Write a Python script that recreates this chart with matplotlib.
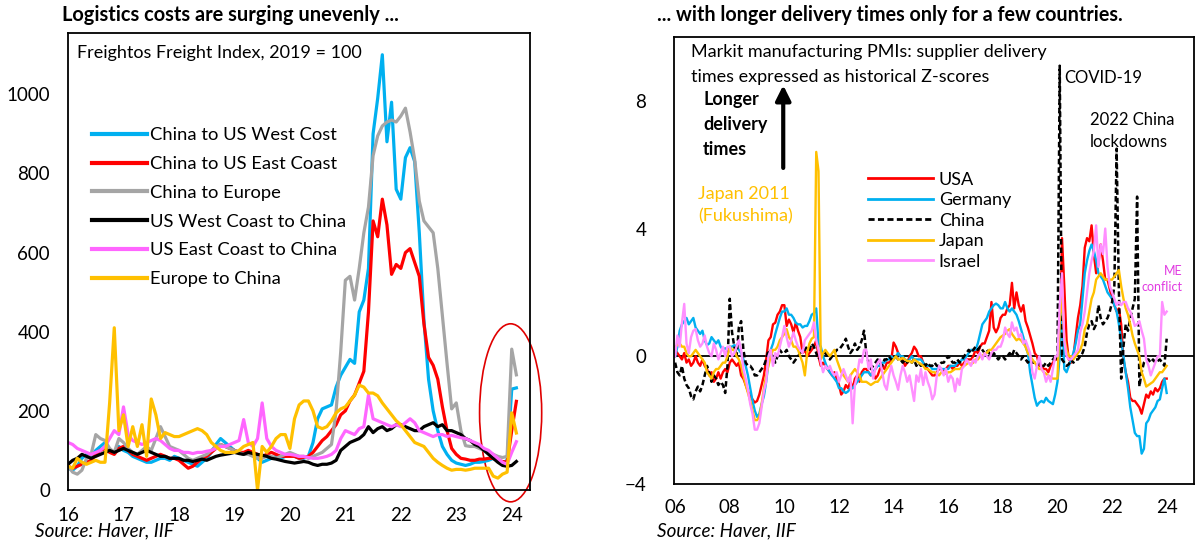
import numpy as np
import matplotlib
matplotlib.use('Agg')
import matplotlib.pyplot as plt
from matplotlib.patches import Ellipse

plt.rcParams['font.family'] = ['Lato', 'DejaVu Sans']

# ---------------- left chart: Freightos index, monthly Jan 2016 - Feb 2024
fr_start = 2016
cn_usw = [55, 50, 60, 80, 90, 85, 100, 110, 120, 100, 95, 110,
          100, 95, 85, 80, 75, 70, 70, 75, 80, 80, 75, 85,
          80, 75, 70, 65, 60, 70, 80, 95, 115, 130, 120, 110,
          100, 95, 90, 95, 90, 80, 70, 75, 80, 85, 80, 85,
          90, 85, 80, 80, 85, 120, 180, 205, 210, 215, 260, 290,
          310, 330, 320, 450, 480, 560, 900, 990, 1100, 880, 980, 760,
          735, 840, 865, 830, 650, 430, 280, 200, 150, 110, 90, 75,
          68, 65, 62, 65, 70, 70, 72, 75, 80, 75, 68, 75,
          255, 258]
cn_use = [60, 55, 60, 65, 70, 75, 90, 100, 105, 95, 90, 105,
          110, 100, 90, 85, 80, 75, 80, 85, 90, 85, 80, 80,
          75, 65, 55, 60, 70, 80, 85, 95, 105, 115, 110, 105,
          100, 95, 95, 100, 95, 90, 85, 90, 95, 90, 85, 85,
          85, 85, 80, 82, 85, 95, 110, 125, 135, 150, 165, 190,
          200, 225, 240, 270, 300, 450, 680, 640, 735, 670, 545, 570,
          560, 600, 610, 575, 540, 420, 335, 315, 280, 210, 150, 105,
          90, 80, 78, 75, 75, 78, 78, 80, 80, 75, 72, 70,
          150, 224]
cn_eu = [60, 45, 40, 50, 80, 90, 140, 130, 125, 105, 95, 130,
         120, 105, 95, 90, 100, 110, 100, 130, 160, 135, 110, 105,
         100, 90, 80, 75, 80, 85, 90, 100, 110, 115, 110, 105,
         100, 95, 90, 90, 85, 80, 80, 85, 85, 80, 85, 90,
         95, 90, 85, 85, 80, 85, 90, 95, 105, 115, 200, 350,
         530, 540, 480, 560, 650, 715, 845, 895, 920, 930, 935, 930,
         945, 965, 905, 835, 730, 680, 665, 650, 560, 440, 320, 205,
         220, 150, 112, 110, 110, 105, 100, 95, 90, 85, 82, 85,
         356, 291]
usw_cn = [65, 75, 80, 90, 85, 80, 85, 90, 95, 100, 95, 100,
          105, 100, 95, 90, 95, 100, 95, 90, 85, 85, 80, 80,
          80, 75, 75, 72, 75, 78, 75, 80, 85, 88, 90, 92,
          95, 92, 90, 95, 92, 90, 88, 85, 80, 78, 75, 72,
          70, 68, 70, 72, 70, 65, 62, 65, 65, 68, 75, 100,
          110, 120, 125, 130, 140, 160, 145, 155, 160, 150, 155, 165,
          165, 160, 155, 150, 150, 160, 165, 170, 160, 165, 150, 150,
          145, 140, 130, 125, 115, 110, 100, 90, 80, 70, 62, 60,
          62, 72]
use_cn = [120, 115, 105, 100, 95, 90, 95, 100, 110, 130, 150, 140,
          210, 140, 125, 120, 115, 120, 125, 130, 125, 115, 105, 100,
          100, 95, 95, 92, 95, 95, 98, 100, 105, 110, 110, 115,
          120, 125, 178, 120, 110, 130, 220, 130, 110, 100, 95, 90,
          90, 88, 85, 85, 82, 80, 80, 82, 85, 90, 100, 130,
          150, 145, 140, 155, 160, 240, 180, 175, 170, 165, 160, 165,
          160, 170, 180, 170, 150, 145, 140, 135, 140, 140, 135, 138,
          135, 132, 130, 125, 120, 115, 105, 100, 90, 80, 70, 65,
          95, 122]
eu_cn = [60, 55, 80, 70, 65, 70, 75, 70, 70, 220, 410, 150,
         190, 110, 160, 110, 165, 85, 230, 190, 130, 145, 140, 135,
         135, 140, 145, 150, 155, 150, 140, 120, 110, 100, 95, 95,
         95, 100, 110, 115, 120, 0, 110, 95, 110, 130, 140, 140,
         105, 180, 215, 225, 225, 200, 160, 155, 160, 175, 195, 205,
         210, 225, 240, 265, 260, 245, 245, 238, 220, 205, 190, 175,
         165, 150, 135, 120, 115, 110, 95, 80, 70, 62, 55, 50,
         52, 52, 50, 52, 55, 55, 55, 55, 35, 30, 40, 45,
         195, 144]
fr_names = ['China to US West Cost', 'China to US East Coast', 'China to Europe',
            'US West Coast to China', 'US East Coast to China', 'Europe to China']
fr_colors = ['#00B0F0', '#FF0000', '#A5A5A5', '#000000', '#FF66FF', '#FFC000']
fr_years = list(range(2016, 2025))
fr_ticklabels = ['16', '17', '18', '19', '20', '21', '22', '23', '24']

# ---------------- right chart: PMI supplier delivery z-scores, monthly Jan 2006 - Jan 2024
pmi_start = 2006
usa = [0.2, 0.1, 0.0, -0.1, 0.1, -0.2, -0.1, -0.3, -0.2, 0.0, -0.2, -0.3,
       -0.1, -0.3, -0.4, -0.6, -0.5, -0.8, -0.7, -0.5, -0.7, -0.5, -0.4, -0.5,
       -0.2, -0.1, -0.2, -0.3, -0.2, -0.6, -0.7, -0.9, -1.1, -1.25, -1.35, -1.45,
       -1.4, -1.2, -0.9, -0.6, -0.1, 0.5, 0.6, 1.0, 1.05, 1.3, 1.4, 1.6,
       1.6, 0.95, 1.15, 1.0, 0.75, 1.05, 0.8, 0.6, 0.1, 0.2, 0.0, 0.1,
       0.2, 0.3, 0.5, 0.0, -0.3, -0.2, -0.3, -0.4, -0.5, -0.6, -0.5, -0.7,
       -0.9, -1.2, -1.1, -0.9, -1.0, -0.8, -1.0, -0.7, -0.6, -0.8, -0.5, -0.4,
       -0.4, -0.5, -0.6, -0.5, -0.7, -0.6, -0.4, -0.3, -0.4, -0.2, -0.2, -0.1,
       0.43, 0.3, 0.1, 0.0, -0.1, -0.3, -0.2, 0.0, 0.1, 0.3, 0.2, 0.0,
       0.0, -0.2, -0.3, -0.4, -0.5, -0.6, -0.6, -0.5, -0.4, -0.4, -0.5, -0.4,
       -0.3, -0.3, -0.4, -0.3, -0.3, -0.2, -0.3, -0.2, -0.1, -0.1, -0.1, 0.0,
       0.2, 0.1, 0.3, 0.4, 0.4, 0.6, 0.8, 1.7, 0.9, 0.75, 0.9, 1.2,
       1.3, 1.3, 1.5, 1.6, 2.3, 1.5, 2.0, 1.6, 1.4, 1.6, 1.1, 0.9,
       0.65, 0.4, 0.1, 0.0, -0.3, -0.3, -0.4, -0.4, -0.5, -0.3, -0.2, -0.1,
       -0.1, 0.1, 3.7, 2.2, 0.5, -0.1, -0.2, 0.0, 0.6, 1.2, 1.6, 2.2,
       3.4, 3.7, 3.6, 4.1, 3.2, 2.6, 2.9, 3.5, 3.0, 2.4, 2.4, 2.1,
       1.8, 1.6, 1.4, 1.5, 1.0, -0.1, -0.5, -0.8, -1.3, -1.4, -1.4, -1.5,
       -1.6, -1.8, -1.5, -1.2, -1.3, -1.1, -1.2, -1.0, -1.1, -1.0, -0.8, -0.7,
       -0.7]
germany = [0.0, 0.3, 0.8, 1.0, 1.1, 1.2, 1.0, 1.1, 1.2, 0.9, 0.8, 0.7,
           0.8, 0.5, 0.35, 0.4, 0.6, 0.5, 0.4, 0.5, 0.3, 0.2, 0.25, 0.2,
           0.3, 0.3, 0.35, 0.3, 0.2, 0.1, -0.1, -0.3, -0.6, -1.0, -1.4, -1.7,
           -1.9, -1.8, -1.5, -1.25, -0.8, -0.2, 0.2, 0.4, 0.7, 0.95, 1.2, 1.4,
           1.4, 1.5, 1.3, 1.3, 1.2, 1.05, 1.0, 1.0, 0.9, 0.95, 0.95, 1.1,
           1.3, 1.35, 1.5, 0.4, 0.3, 0.0, -0.2, -0.4, -0.5, -0.6, -0.7, -0.8,
           -1.0, -1.0, -1.1, -1.15, -1.1, -1.0, -1.0, -0.9, -0.8, -0.7, -0.6, -0.5,
           -0.5, -0.5, -0.6, -0.5, -0.4, -0.3, -0.3, -0.2, -0.2, -0.1, -0.1, 0.0,
           -0.1, 0.0, 0.1, 0.0, 0.0, -0.1, -0.15, -0.1, 0.0, -0.1, -0.1, -0.1,
           -0.1, -0.2, -0.3, -0.3, -0.3, -0.4, -0.4, -0.4, -0.35, -0.4, -0.4, -0.4,
           -0.4, -0.3, -0.3, -0.3, -0.2, -0.2, -0.1, -0.1, 0.0, 0.1, 0.2, 0.2,
           0.2, 0.4, 0.7, 1.0, 1.1, 1.2, 1.4, 1.5, 1.6, 1.65, 1.6, 1.5,
           1.5, 1.7, 1.5, 1.4, 1.5, 1.4, 1.3, 1.1, 0.85, 0.6, 0.3, 0.1,
           -0.5, -0.9, -1.3, -1.55, -1.45, -1.4, -1.45, -1.3, -1.4, -1.45, -1.5, -1.2,
           -0.8, 0.0, 1.5, -0.4, -0.5, -0.3, -0.1, 0.1, 0.4, 0.8, 1.0, 1.8,
           2.6, 3.0, 3.3, 3.5, 3.3, 3.0, 2.6, 2.5, 2.4, 2.2, 2.0, 1.9,
           1.8, 1.6, 1.4, 1.0, 0.5, 0.0, -0.5, -1.0, -1.6, -2.0, -2.4, -2.5,
           -2.5, -3.05, -2.9, -2.1, -2.0, -1.8, -1.7, -1.6, -1.4, -1.35, -1.0, -0.7,
           -1.15]
china = [-0.2, -0.5, -0.6, -0.3, -0.7, -0.9, -1.0, -1.25, -1.35, -1.1, -0.95, -1.1,
         -0.9, -0.6, -0.3, -0.5, -0.8, -0.6, -0.7, -0.9, -0.8, -0.9, -1.15, -0.3,
         1.8, 0.75, 0.3, 0.0, 0.9, 1.1, 0.2, -0.2, -0.3, -0.3, -0.4, -0.6,
         -0.6, -0.5, -0.4, -0.3, -0.1, 0.2, 0.1, 0.0, -0.2, 0.0, 0.2, 0.1,
         0.1, 0.2, 0.0, -0.1, -0.2, -0.1, 0.0, 0.1, 0.2, 0.2, 0.3, 0.2,
         0.4, 0.3, 0.1, -0.1, 0.0, 0.1, 0.1, 0.0, -0.1, 0.0, 0.1, 0.2,
         0.2, 0.3, 0.4, 0.55, 0.3, 0.1, 0.2, 0.4, 0.2, 0.3, 0.5, 0.8,
         0.1, -0.2, -0.4, -0.3, -0.2, -0.1, -0.2, -0.3, -0.1, -0.1, 0.0, -0.1,
         -0.1, 0.0, -0.1, -0.1, -0.2, -0.1, -0.2, -0.1, -0.2, -0.1, -0.3, -0.2,
         -0.3, -0.2, -0.3, -0.2, -0.3, -0.3, -0.2, -0.3, -0.3, -0.2, -0.2, -0.1,
         0.0, -0.1, -0.2, -0.2, -0.1, -0.2, -0.1, 0.0, 0.1, 0.2, 0.1, 0.2,
         0.3, 0.2, 0.3, 0.2, 0.1, 0.2, 0.1, 0.0, 0.1, 0.0, -0.1, 0.0,
         0.0, -0.1, 0.0, 0.1, 0.0, 0.2, 0.1, 0.0, -0.1, 0.0, -0.1, -0.2,
         -0.1, -0.2, -0.2, -0.3, -0.2, -0.3, -0.3, -0.2, -0.3, -0.2, -0.1, 0.0,
         -0.1, 9.1, -0.1, -0.2, -0.3, -0.25, -0.1, -0.2, -0.1, -0.1, 0.0, 0.1,
         0.3, 0.75, 1.0, 1.1, 0.85, 1.0, 1.6, 1.2, 1.0, 1.1, 1.2, 1.4,
         1.7, 2.2, 6.5, 2.0, -0.7, 0.3, 1.0, 0.8, 1.2, 1.5, 1.8, 5.0,
         -0.95, -0.5, -0.2, -0.1, -0.1, -0.2, -0.1, -0.2, -0.15, -0.1, -0.2, -0.3,
         0.55]
japan = [0.3, 0.35, 0.4, 0.3, 0.3, 0.1, 0.0, 0.0, 0.1, 0.2, 0.1, 0.0,
         -0.1, -0.2, -0.5, -0.6, -0.7, -0.5, -0.4, -0.4, -0.3, -0.2, -0.2, 0.0,
         0.3, 0.2, 0.2, 0.0, -0.1, -0.3, -0.6, -0.9, -1.15, -1.4, -1.7, -2.0,
         -2.0, -1.9, -1.5, -1.0, -0.6, -0.3, 0.0, 0.2, 0.2, 0.3, 0.5, 0.6,
         0.7, 0.85, 0.6, 0.5, 0.3, 0.3, 0.2, 0.0, -0.2, -0.6, 0.1, 0.4,
         0.55, 0.6, 6.4, 5.8, -0.1, 0.1, 0.2, 0.1, 0.0, 0.1, 0.2, -0.1,
         -0.3, -0.5, -0.6, -0.7, -0.8, -0.6, -0.5, -0.4, -0.5, -0.6, -0.8, -0.8,
         -0.8, -0.85, -0.9, -0.85, -0.8, -0.8, -0.7, -0.6, -0.5, -0.4, -0.3, -0.2,
         -0.1, 0.0, -0.1, -0.1, -0.05, -0.1, -0.15, -0.15, -0.2, -0.1, -0.15, -0.2,
         -0.25, -0.3, -0.4, -0.4, -0.45, -0.5, -0.5, -0.55, -0.6, -0.5, -0.5, -0.55,
         -0.5, -0.5, -0.45, -0.4, -0.4, -0.4, -0.35, -0.3, -0.25, -0.2, -0.25, -0.2,
         -0.1, -0.1, 0.0, 0.0, 0.1, 0.1, 0.2, 0.2, 0.3, 0.4, 0.5, 0.6,
         0.65, 0.7, 0.8, 0.85, 0.7, 0.6, 0.5, 0.55, 0.5, 0.4, 0.3, 0.1,
         0.0, -0.1, -0.2, -0.3, -0.4, -0.4, -0.5, -0.55, -0.6, -0.65, -0.7, -0.7,
         -0.7, 1.1, 1.9, 0.6, 0.2, 0.0, 0.0, -0.1, 0.0, 0.1, 0.2, 0.4,
         0.85, 1.0, 1.4, 1.8, 2.0, 2.4, 2.5, 2.6, 2.5, 2.4, 2.4, 2.4,
         2.4, 2.5, 2.6, 2.7, 2.2, 1.8, 1.5, 1.3, 1.0, 0.65, 0.4, 0.2,
         0.0, -0.5, -0.7, -0.95, -0.9, -0.85, -0.8, -0.7, -0.6, -0.5, -0.5, -0.4,
         -0.3]
israel = [0.0, 0.65, 0.3, 1.05, 1.64, 0.4, 0.1, 0.6, 0.8, 0.85, 0.5, 0.3,
          0.4, 0.65, 0.3, 0.1, 0.0, 0.4, 0.2, -0.1, 0.1, 0.3, 0.0, 0.3,
          0.3, 0.0, 0.1, 0.3, 0.5, 0.2, -0.4, -0.7, -1.05, -1.5, -1.8, -2.3,
          -2.3, -2.1, -1.6, -1.1, -0.8, 0.0, 0.2, -0.3, 0.1, 0.0, 0.3, 0.6,
          0.95, 0.6, 0.3, 0.5, 0.75, 0.5, 0.3, 0.2, 0.1, 0.5, 0.6, 0.7,
          0.8, 1.06, 0.5, 0.2, -0.2, -0.5, -0.3, -0.4, -0.3, -0.5, -0.6, -0.5,
          -0.8, -0.6, -0.4, -0.6, -0.8, -0.6, -2.1, -0.9, -0.6, -0.1, -0.2, 0.2,
          0.2, -0.4, -0.1, -0.7, -0.4, -0.2, -0.1, -0.5, -0.9, -1.05, -0.6, -0.3,
          -0.6, -0.8, -1.05, -0.6, -0.3, -0.5, -0.8, -0.6, -1.0, -1.4, -0.6, -0.8,
          -0.4, -0.9, -0.5, -0.8, -1.0, -1.35, -1.2, -0.6, -0.3, -0.4, -0.6, -0.4,
          -0.8, -0.6, -0.7, -1.1, -0.7, -0.9, -0.4, -0.3, -0.1, -0.2, -0.3, -0.1,
          -0.2, 0.0, 0.1, -0.1, 0.1, 0.0, -0.1, 0.1, 0.2, 0.2, 0.3, 0.3,
          0.5, 0.9, 0.7, 0.6, 1.06, 0.8, 0.9, 0.6, 0.7, 0.4, 0.5, 0.3,
          0.1, -0.5, -0.7, -0.3, 0.0, -0.4, -0.5, -0.8, -0.6, -0.8, -0.4, 0.0,
          0.0, 1.6, 2.6, 0.5, 0.0, -0.1, -0.1, 0.0, 0.1, 0.2, 0.75, 1.0,
          1.4, 2.0, 2.6, 3.0, 3.3, 4.1, 2.8, 3.5, 3.2, 4.0, 2.8, 2.2,
          2.0, 1.8, 1.6, 1.7, 1.6, 1.7, 1.7, 1.5, 1.4, 1.2, 0.95, 1.0,
          1.1, 0.8, 0.55, -0.1, -0.3, -0.6, -0.4, -0.2, 0.0, 0.0, 1.7, 1.3,
          1.4]
pmi_names = ['USA', 'Germany', 'China', 'Japan', 'Israel']
pmi_colors = ['#FF0000', '#00B0F0', '#000000', '#FFC000', '#FF8FFF']
pmi_years = list(range(2006, 2025, 2))
pmi_ticklabels = ['06', '08', '10', '12', '14', '16', '18', '20', '22', '24']

fig = plt.figure(figsize=(12, 5.46), dpi=100)

# ===== left panel
ax1 = fig.add_axes([0.0567, 0.1026, 0.385, 0.837])
fr_series = [cn_usw, cn_use, cn_eu, usw_cn, use_cn, eu_cn]
x1 = fr_start + np.arange(len(cn_usw)) / 12
for vals, name, col in zip(fr_series, fr_names, fr_colors):
    ax1.plot(x1, vals, color=col, lw=2.3, label=name, solid_joinstyle='round')
ax1.set_xlim(2016, 2024.33)
ax1.set_ylim(0, 1155)
ax1.set_yticks([0, 200, 400, 600, 800, 1000])
ax1.set_xticks(fr_years)
ax1.set_xticklabels(fr_ticklabels)
ax1.tick_params(length=0, labelsize=13.5)
ax1.tick_params(axis='y', pad=13)
ax1.tick_params(axis='x', pad=12)
for s in ax1.spines.values():
    s.set_linewidth(1.3)
ax1.text(0.019, 0.956, 'Freightos Freight Index, 2019 = 100', transform=ax1.transAxes,
         fontsize=13, va='center', ha='left')
leg1 = ax1.legend(loc='upper left', bbox_to_anchor=(0.035, 0.81), frameon=False,
                  fontsize=13.2, handlelength=3.0, handletextpad=0.2, labelspacing=0.7,
                  borderaxespad=0)
for h in leg1.get_lines():
    h.set_linewidth(3)
ax1.add_patch(Ellipse((2023.98, 195), 1.12, 450, fill=False, edgecolor='#E00000',
                      lw=1.2, clip_on=False))
fig.text(0.052, 0.972, 'Logistics costs are surging unevenly ...', fontsize=14.4,
         fontweight='bold', ha='left', va='center')
fig.text(0.029, 0.027, 'Source: Haver, IIF', fontsize=13.6, style='italic',
         ha='left', va='center')

# ===== right panel
ax2 = fig.add_axes([0.5617, 0.1136, 0.4333, 0.8187])
pmi_series = [usa, germany, china, japan, israel]
x2 = pmi_start + np.arange(len(usa)) / 12
for vals, name, col in zip(pmi_series, pmi_names, pmi_colors):
    if name == 'China':
        ax2.plot(x2, vals, color=col, lw=1.8, ls=(0, (2.2, 1.2)), label=name)
    else:
        ax2.plot(x2, vals, color=col, lw=1.7, label=name)
ax2.axhline(0, color='black', lw=1.3, zorder=1)
ax2.set_xlim(2005.96, 2025.0)
ax2.set_ylim(-4, 10)
ax2.set_yticks([-4, 0, 4, 8])
ax2.set_xticks(pmi_years)
ax2.set_xticklabels(pmi_ticklabels)
ax2.tick_params(length=0, labelsize=13.5)
ax2.tick_params(axis='y', pad=20)
ax2.tick_params(axis='x', pad=11)
for s in ax2.spines.values():
    s.set_linewidth(1.3)
ax2.text(0.033, 0.966, 'Markit manufacturing PMIs: supplier delivery', transform=ax2.transAxes,
         fontsize=13, va='center', ha='left')
ax2.text(0.033, 0.911, 'times expressed as historical Z-scores', transform=ax2.transAxes,
         fontsize=13, va='center', ha='left')
ax2.text(0.056, 0.804, 'Longer\ndelivery\ntimes', transform=ax2.transAxes, fontsize=13,
         fontweight='bold', va='center', ha='left', linespacing=1.55)
ax2.annotate('', xy=(0.21, 0.892), xytext=(0.21, 0.707), xycoords='axes fraction',
             arrowprops=dict(arrowstyle='-|>,head_width=0.45,head_length=0.9',
                             lw=3, color='black', shrinkA=0, shrinkB=0))
ax2.text(0.046, 0.623, 'Japan 2011\n(Fukushima)', transform=ax2.transAxes, fontsize=13,
         color='#FFC000', va='center', ha='left', linespacing=1.5)
ax2.text(0.75, 0.908, 'COVID-19', transform=ax2.transAxes, fontsize=12,
         va='center', ha='left')
ax2.text(0.80, 0.79, '2022 China\nlockdowns', transform=ax2.transAxes, fontsize=12,
         va='center', ha='left', linespacing=1.45)
ax2.text(0.978, 0.458, 'ME\nconflict', transform=ax2.transAxes, fontsize=9,
         color='#E13BE1', va='center', ha='right', linespacing=1.4)
leg2 = ax2.legend(loc='upper left', bbox_to_anchor=(0.36, 0.715), frameon=False,
                  fontsize=13, handlelength=3.6, handletextpad=0.3, labelspacing=0.25,
                  borderaxespad=0)
for h in leg2.get_lines():
    h.set_linewidth(2)
fig.text(0.5475, 0.972, '... with longer delivery times only for a few countries.',
         fontsize=14.2, fontweight='bold', ha='left', va='center')
fig.text(0.5475, 0.027, 'Source: Haver, IIF', fontsize=13.6, style='italic',
         ha='left', va='center')

fig.savefig('out.png', dpi=100)
